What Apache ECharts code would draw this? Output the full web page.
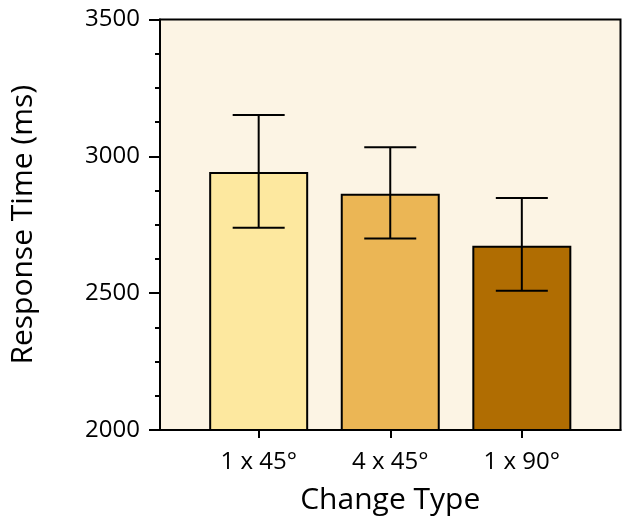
<!DOCTYPE html>
<html>
<head>
<meta charset="utf-8">
<script src="https://cdn.jsdelivr.net/npm/echarts@6/dist/echarts.min.js"></script>
<style>html,body{margin:0;padding:0;background:#fff}#c{width:626px;height:528px}</style>
</head>
<body>
<div id="c"></div>
<script>
var categories = ['1 x 45°', '4 x 45°', '1 x 90°'];
var positions = [1, 2, 3];
var means = [2943, 2863, 2673];
var errLow = [2739, 2700, 2509];
var errHigh = [3151, 3033, 2848];
var barColors = ['#FDE89F', '#EBB655', '#B06D02'];
var yTicks = [2000, 2500, 3000, 3500];

var FONT = 'Open Sans';
var chart = echarts.init(document.getElementById('c'), null, {renderer: 'canvas'});
var barData = positions.map(function (p, i) {
  return {value: [p, means[i]], itemStyle: {color: barColors[i]}};
});
var errData = positions.map(function (p, i) { return [p, errLow[i], errHigh[i]]; });

chart.setOption({
  animation: false,
  backgroundColor: '#fff',
  grid: {
    left: 157, top: 19.5, right: 5.5, bottom: 98,
    show: true, backgroundColor: '#FCF4E4', borderColor: '#000', borderWidth: 2
  },
  xAxis: {
    type: 'value', min: 0.25, max: 3.75,
    name: 'Change Type', nameLocation: 'middle', nameGap: 55,
    nameTextStyle: {fontFamily: FONT, fontSize: 30, color: '#000'},
    axisLine: {show: true, lineStyle: {color: '#000', width: 2}},
    axisTick: {show: true, length: 8, lineStyle: {color: '#000', width: 2}, customValues: positions},
    axisLabel: {
      customValues: positions, margin: 20, fontFamily: FONT, fontSize: 24, color: '#000',
      formatter: function (v) { var i = positions.indexOf(v); return i >= 0 ? categories[i] : ''; }
    },
    splitLine: {show: false}
  },
  yAxis: {
    type: 'value', min: yTicks[0], max: yTicks[yTicks.length - 1], interval: 500,
    name: 'Response Time (ms)', nameLocation: 'middle', nameGap: 122,
    nameTextStyle: {fontFamily: FONT, fontSize: 30, color: '#000'},
    axisLine: {show: true, lineStyle: {color: '#000', width: 2}},
    axisTick: {show: true, length: 11, lineStyle: {color: '#000', width: 2}},
    minorTick: {show: true, splitNumber: 4, length: 5, lineStyle: {color: '#000', width: 2}},
    axisLabel: {margin: 20, fontFamily: FONT, fontSize: 24, color: '#000',
      formatter: function (v) { return String(v); }},
    splitLine: {show: false}
  },
  series: [
    {
      type: 'bar', data: barData, barWidth: 99,
      itemStyle: {borderColor: '#000', borderWidth: 2}
    },
    {
      type: 'custom', data: errData, z: 10,
      renderItem: function (params, api) {
        var x = api.value(0);
        var lo = api.coord([x, api.value(1)]);
        var hi = api.coord([x, api.value(2)]);
        var hw = 26;
        var st = {stroke: '#000', lineWidth: 2};
        return {type: 'group', children: [
          {type: 'line', shape: {x1: lo[0], y1: lo[1], x2: hi[0], y2: hi[1]}, style: st},
          {type: 'line', shape: {x1: lo[0] - hw, y1: lo[1], x2: lo[0] + hw, y2: lo[1]}, style: st},
          {type: 'line', shape: {x1: hi[0] - hw, y1: hi[1], x2: hi[0] + hw, y2: hi[1]}, style: st}
        ]};
      }
    }
  ]
});
</script>
</body>
</html>
